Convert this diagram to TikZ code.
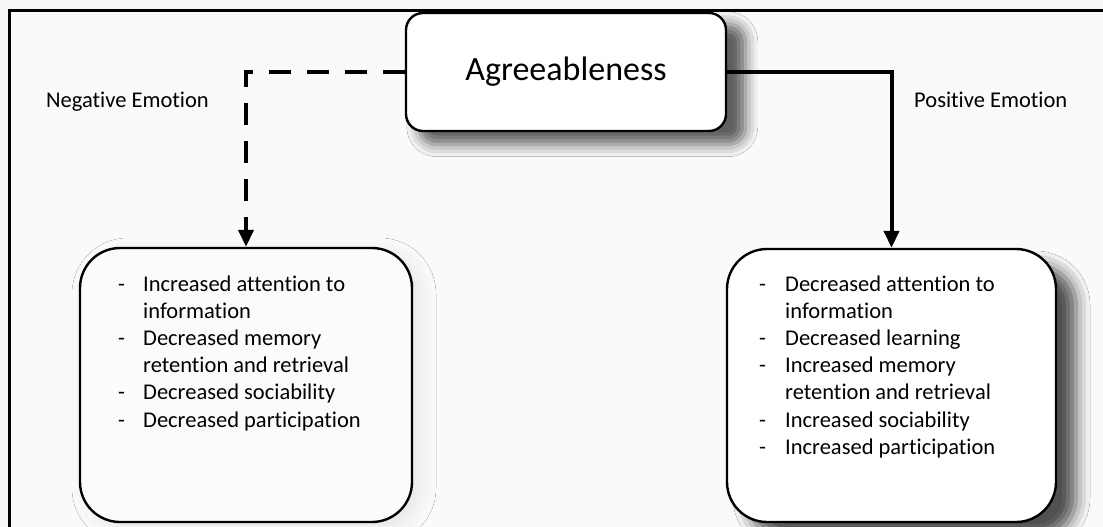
\documentclass[tikz,border=0pt]{standalone}
\usepackage{fontspec}
\setmainfont{Carlito}[RawFeature=-liga]
\usetikzlibrary{arrows.meta,shadows.blur}

\begin{document}
\begin{tikzpicture}[x=1pt,y=-1pt,
  box/.style={draw=black, line width=2.4pt, fill=white, inner sep=0pt},
  topbox/.style={box, rounded corners=17pt, minimum width=320pt, minimum height=118pt,
    font=\fontsize{34}{40}\selectfont,
    blur shadow={shadow xshift=16pt, shadow yshift=-12pt, shadow blur radius=12pt,
      shadow scale=1.02, shadow opacity=62}},
  listbox/.style={box, rounded corners=40pt},
  conn/.style={line width=4pt, -{Triangle[width=15pt,length=17pt]}},
  dashconn/.style={conn, dash pattern=on 22pt off 16pt},
  lbl/.style={anchor=base west, inner sep=0pt, font=\fontsize{22.5}{27.2}\selectfont},
  items/.style={lbl}
  ]
  \useasboundingbox (0,0) rectangle (1103,527);

  % page and frame background
  \fill[gray!7] (0,0) rectangle (1103,527);
  \fill[gray!4] (9,11) rectangle (1103,527);

  % boxes
  \node[topbox] (agr) at (566,72) {Agreeableness};
  \node[listbox, fill=gray!3, minimum width=332pt, minimum height=274pt,
    blur shadow={shadow xshift=8pt, shadow yshift=-6pt, shadow blur radius=16pt, shadow opacity=8}]
    (neg) at (246,385) {};
  \node[listbox, minimum width=329pt, minimum height=273pt,
    blur shadow={shadow xshift=20pt, shadow yshift=-16pt, shadow blur radius=14pt, shadow opacity=68}]
    (pos) at (891.5,385.5) {};

  % frame (only its top and left sides fall inside the page)
  \draw[line width=3pt] (9,527) -- (9,11) -- (1103,11);

  % connectors
  \draw[dashconn] (agr.west) -| (neg.north);
  \draw[conn] (agr.east) -| (pos.north);

  % labels
  \node[lbl] (neglbl) at (46,107) {Negative Emotion};
  \node[lbl] (poslbl) at (914,107) {Positive Emotion};

  % item lists
  \node[items] (negitems) at (118,291) {\begin{tabular}[t]{@{}p{25pt}@{}l@{}}
    - & Increased attention to\\
      & information\\
    - & Decreased memory\\
      & retention and retrieval\\
    - & Decreased sociability\\
    - & Decreased participation
  \end{tabular}};
  \node[items] (positems) at (759,291) {\begin{tabular}[t]{@{}p{26pt}@{}l@{}}
    - & Decreased attention to\\
      & information\\
    - & Decreased learning\\
    - & Increased memory\\
      & retention and retrieval\\
    - & Increased sociability\\
    - & Increased participation
  \end{tabular}};
\end{tikzpicture}
\end{document}
